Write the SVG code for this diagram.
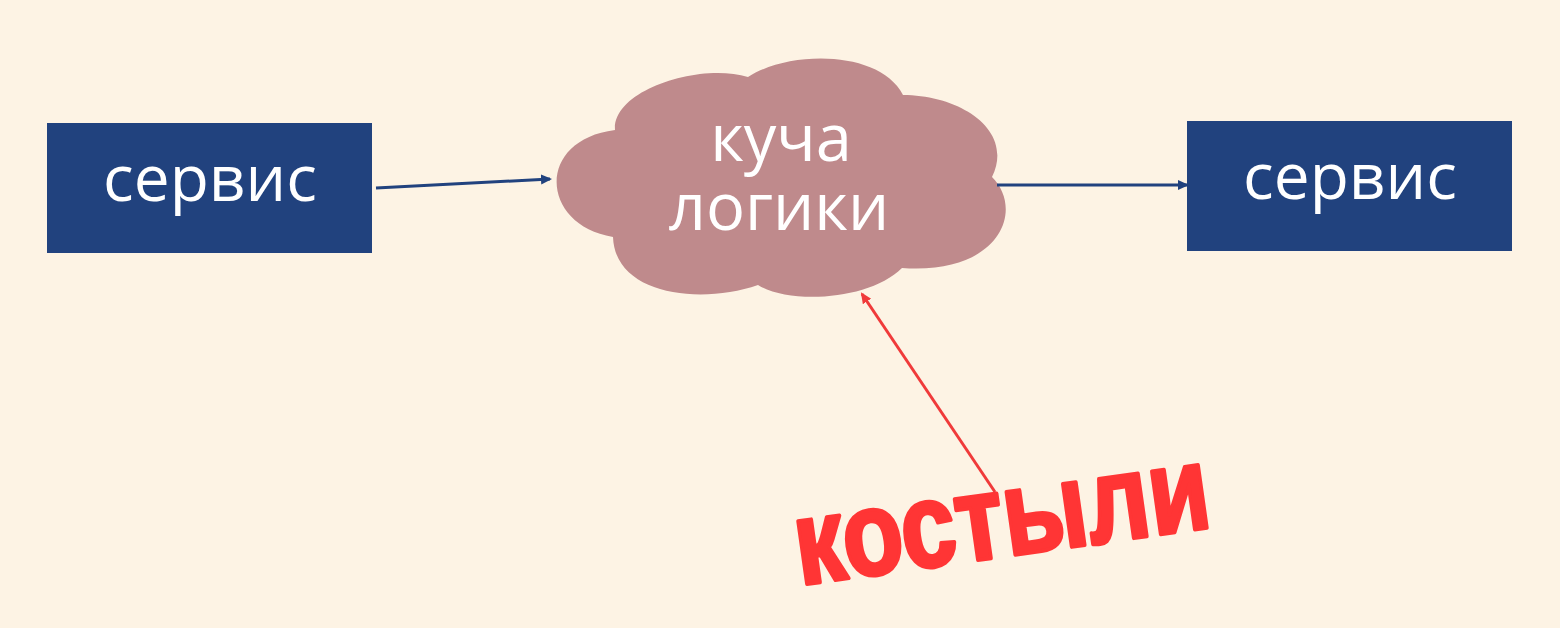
<svg xmlns="http://www.w3.org/2000/svg" width="1560" height="628" viewBox="0 0 1560 628">
<style>
.box{fill:#21427e}
.lbl{font-family:"Open Sans","Liberation Sans",sans-serif;fill:#ffffff;text-anchor:middle}
.conn{stroke:#21427e;stroke-width:3;fill:none}
.red{stroke:#f03a3a;stroke-width:3;fill:none}
</style>
<defs>
<marker id="ab" markerWidth="12" markerHeight="12" refX="9" refY="6" orient="auto" markerUnits="userSpaceOnUse" viewBox="0 0 12 12">
<path d="M0,1 L11,6 L0,11 Z" fill="#21427e"/>
</marker>
<marker id="ar" markerWidth="12" markerHeight="12" refX="9" refY="6" orient="auto" markerUnits="userSpaceOnUse" viewBox="0 0 12 12">
<path d="M0,1 L11,6 L0,11 Z" fill="#f03a3a"/>
</marker>
</defs>
<rect width="1560" height="628" fill="#fdf3e4"/>
<g id="service-left">
<rect class="box" x="47" y="123" width="325" height="130"/>
<text class="lbl" x="210" y="201" font-size="64">сервис</text>
</g>
<g id="cloud">
<path d="M615,130 C612,90 700,62 748,77 C790,50 880,50 903,95 C960,95 1015,130 992,177 C1025,210 1000,275 902,268 C870,300 790,305 758,285 C700,305 615,295 613,237 C540,225 535,140 615,130 Z" fill="#bf8a8c"/>
<text class="lbl" font-size="65"><tspan x="781" y="161">куча</tspan><tspan x="779" y="230">логики</tspan></text>
</g>
<g id="service-right">
<rect class="box" x="1187" y="121" width="325" height="130"/>
<text class="lbl" x="1350" y="199" font-size="64">сервис</text>
</g>
<g id="crutches">
<text x="0" y="0" transform="translate(800,585) rotate(-8)" font-family="'Liberation Sans',sans-serif" font-weight="bold" font-size="120" fill="#ff3535" stroke="#ff3535" stroke-width="4" stroke-linejoin="round" textLength="418" lengthAdjust="spacingAndGlyphs">костыли</text>
</g>
<g id="connectors">
<line class="conn" x1="376" y1="188" x2="550" y2="179" marker-end="url(#ab)"/>
<line class="conn" x1="997" y1="185" x2="1187" y2="185" marker-end="url(#ab)"/>
<line class="red" x1="995" y1="492" x2="862" y2="294" marker-end="url(#ar)"/>
</g>
</svg>
